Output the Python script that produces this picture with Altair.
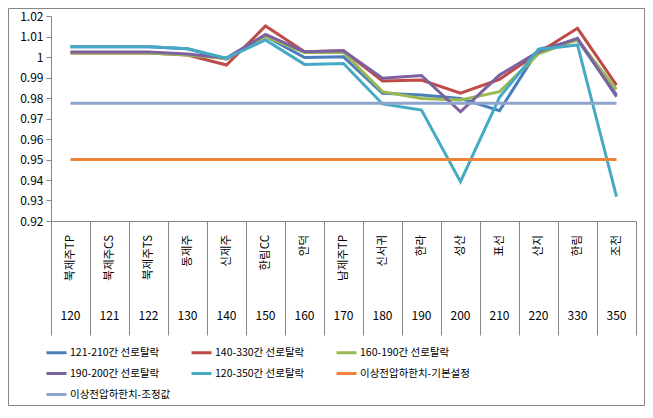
import altair as alt
import pandas as pd

categories = ["북제주TP", "북제주CS", "북제주TS", "동제주", "신제주", "한림CC", "안덕", "남제주TP",
              "신서귀", "한라", "성산", "표선", "산지", "한림", "조천"]
codes = ["120", "121", "122", "130", "140", "150", "160", "170", "180", "190", "200", "210", "220", "330", "350"]

series_names = ["121-210간 선로탈락", "140-330간 선로탈락", "160-190간 선로탈락", "190-200간 선로탈락",
                "120-350간 선로탈락", "이상전압하한치-기본설정", "이상전압하한치-조정값"]

s_121_210 = [1.005, 1.005, 1.005, 1.004, 0.999, 1.0102, 0.9997, 1.0001, 0.9823, 0.9815, 0.9798, 0.9738, 1.0037, 1.0083, 0.9815]
s_140_330 = [1.002, 1.002, 1.002, 1.001, 0.9961, 1.0151, 1.0026, 1.003, 0.9883, 0.9888, 0.9823, 0.9891, 1.0021, 1.014, 0.9863]
s_160_190 = [1.002, 1.002, 1.002, 1.001, 0.9992, 1.010, 1.0022, 1.0022, 0.9831, 0.9798, 0.979, 0.9831, 1.0015, 1.0085, 0.9842]
s_190_200 = [1.0025, 1.0025, 1.0025, 1.0015, 0.9995, 1.011, 1.0026, 1.003, 0.9896, 0.991, 0.9733, 0.9912, 1.0026, 1.0091, 0.9806]
s_120_350 = [1.005, 1.005, 1.005, 1.004, 0.9994, 1.0083, 0.9964, 0.9968, 0.9771, 0.9741, 0.9392, 0.9803, 1.0037, 1.0059, 0.9319]
limit_basic = [0.95] * 15
limit_adjusted = [0.9775] * 15

colors = ["#4A7EBB", "#BE4B48", "#98B954", "#7D60A0", "#46AAC5", "#EE8437", "#8FA3CF"]
y_ticks = [0.92, 0.93, 0.94, 0.95, 0.96, 0.97, 0.98, 0.99, 1.0, 1.01, 1.02]

all_series = [s_121_210, s_140_330, s_160_190, s_190_200, s_120_350, limit_basic, limit_adjusted]
rows = []
for name, vals in zip(series_names, all_series):
    for i, v in enumerate(vals):
        rows.append({"series": name, "pos": i + 0.5, "value": v})
df = pd.DataFrame(rows)
cat_df = pd.DataFrame({"pos": [i + 0.5 for i in range(len(categories))], "name": categories, "code": codes})

FONT = "Noto Sans CJK KR"
GRAY = "#868686"
W, H = 585, 205

x_enc = alt.X("pos:Q",
              scale=alt.Scale(domain=[0, len(categories)], nice=False, zero=False),
              axis=alt.Axis(values=list(range(len(categories) + 1)), labels=False, title=None,
                            tickSize=114, grid=False, domainColor=GRAY, tickColor=GRAY))

lines = alt.Chart(df).mark_line(strokeWidth=3).encode(
    x=x_enc,
    y=alt.Y("value:Q",
            scale=alt.Scale(domain=[0.92, 1.02], nice=False, zero=False),
            axis=alt.Axis(values=y_ticks, title=None, grid=False, tickSize=5,
                          labelExpr="datum.value == 1 ? '1' : format(datum.value, '.2f')",
                          labelFontSize=12, labelFont=FONT, labelColor="black", labelPadding=3,
                          domainColor=GRAY, tickColor=GRAY)),
    color=alt.Color("series:N", scale=alt.Scale(domain=series_names, range=colors),
                    legend=alt.Legend(title=None, orient="none", direction="horizontal",
                                      legendX=-6, legendY=325,
                                      columns=3, gridAlign="all", symbolType="stroke",
                                      symbolSize=400, symbolStrokeWidth=3, labelFont=FONT,
                                      labelFontSize=10.5, labelColor="black", labelOffset=2,
                                      columnPadding=5, rowPadding=3, padding=0, labelLimit=300)),
)

names = alt.Chart(cat_df).mark_text(angle=270, align="right", baseline="middle", font=FONT,
                                     fontSize=11.5, color="black").encode(
    x=x_enc, y=alt.value(219), text="name:N")

nums = alt.Chart(cat_df).mark_text(align="center", baseline="middle", font=FONT,
                                    fontSize=12, color="black").encode(
    x=x_enc, y=alt.value(300), text="code:N")

frame = alt.Chart(pd.DataFrame({"k": [0]})).mark_rect(fill="transparent", stroke=GRAY, strokeWidth=1).encode(
    x=alt.value(-42.5), x2=alt.value(593.5), y=alt.value(-7.5), y2=alt.value(389.5))

chart = alt.layer(frame, lines, names, nums).properties(
    width=W, height=H,
    padding={"left": 43, "top": 8, "right": 9, "bottom": 185},
    autosize=alt.AutoSizeParams(type="none"),
    background="white",
).configure_view(stroke=None)

chart.save("out.html", embed_options={"renderer": "svg", "actions": False})
